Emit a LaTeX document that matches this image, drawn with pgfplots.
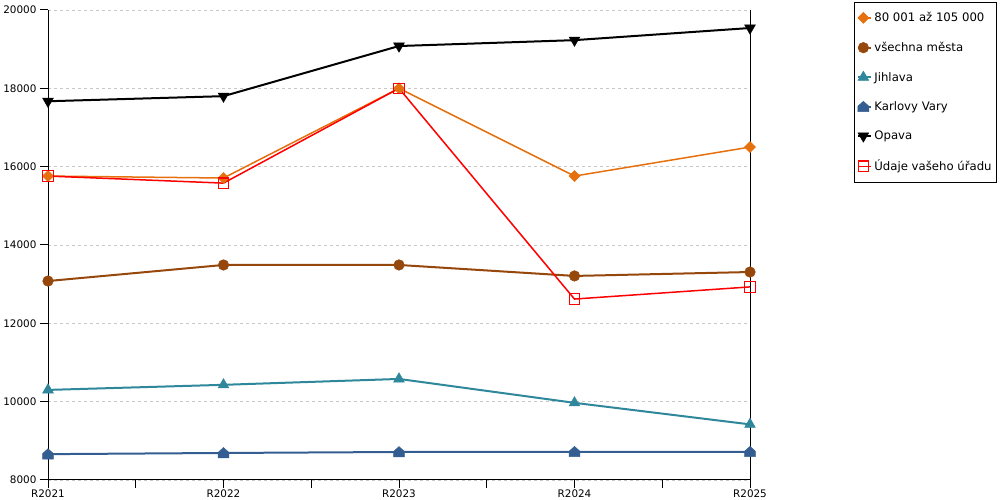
\documentclass[border=0pt]{standalone}
\usepackage{fontspec}
\setmainfont{DejaVu Sans}
\usepackage{pgfplots}
\pgfplotsset{compat=1.18}
\definecolor{corange}{RGB}{230,112,14}
\definecolor{cbrown}{RGB}{150,72,12}
\definecolor{cteal}{RGB}{46,135,155}
\definecolor{cblue}{RGB}{52,94,145}
\definecolor{cgrid}{RGB}{200,200,200}
\makeatletter
\pgfdeclareplotmark{house*}{%
  \pgfpathmoveto{\pgfqpoint{-\pgfplotmarksize}{-0.9\pgfplotmarksize}}%
  \pgfpathlineto{\pgfqpoint{\pgfplotmarksize}{-0.9\pgfplotmarksize}}%
  \pgfpathlineto{\pgfqpoint{\pgfplotmarksize}{0.1\pgfplotmarksize}}%
  \pgfpathlineto{\pgfqpoint{0pt}{\pgfplotmarksize}}%
  \pgfpathlineto{\pgfqpoint{-\pgfplotmarksize}{0.1\pgfplotmarksize}}%
  \pgfpathclose
  \pgfusepathqfillstroke}
\makeatother
\begin{document}
\begin{tikzpicture}
\path[use as bounding box] (0,0) rectangle (1000pt,500pt);
\begin{axis}[
  at={(48pt,20pt)}, anchor=south west,
  scale only axis, width=702pt, height=470pt,
  xmin=0, xmax=4, ymin=8000, ymax=20000,
  xtick={0,1,2,3,4},
  xticklabels={R2021,R2022,R2023,R2024,R2025},
  minor x tick num=1,
  ytick={8000,10000,...,20000},
  scaled y ticks=false,
  axis x line*=bottom, axis y line*=left,
  axis line style={black, line width=1pt, -},
  tick style={black, line width=1pt},
  tick align=outside,
  major tick length=8pt, minor tick length=8pt,
  ymajorgrids,
  grid style={cgrid, dash pattern=on 3pt off 3pt, line width=0.6pt},
  /pgf/number format/assume math mode=true,
  /pgf/number format/1000 sep={},
  ticklabel style={font=\fontsize{10.4}{12}\selectfont},
  xticklabel style={yshift=1.5pt},
  yticklabel style={xshift=0pt},
  clip=false,
  legend style={at={(1.1481,1.017)}, anchor=north west,
    draw=black, line width=0.8pt,
    font=\fontsize{11.7}{13}\selectfont,
    row sep=15pt, inner xsep=3pt, inner ysep=8pt},
  legend cell align=left,
  legend image code/.code={\path (-1pt,0pt) -- (12pt,0pt);\draw[#1] plot[only marks] coordinates {(4pt,0pt)};},
]
\addplot[color=corange, line width=1.5pt, mark=square*, mark size=3.9pt,
  mark options={rotate=45, fill=corange, draw=corange, line width=0.5pt}]
  coordinates {(0,15760) (1,15710) (2,18000) (3,15760) (4,16500)};
\addlegendentry{80 001 až 105 000}
\addplot[color=cbrown, line width=2pt, mark=*, mark size=5.3pt,
  mark options={fill=cbrown, draw=cbrown, line width=0.5pt}]
  coordinates {(0,13080) (1,13490) (2,13490) (3,13210) (4,13310)};
\addlegendentry{všechna města}
\addplot[color=cteal, line width=2pt, mark=triangle*, mark size=6.2pt,
  mark options={fill=cteal, draw=cteal, line width=0.5pt}]
  coordinates {(0,10300) (1,10430) (2,10580) (3,9970) (4,9420)};
\addlegendentry{Jihlava}
\addplot[color=cblue, line width=2pt, mark=house*, mark size=5.4pt,
  mark options={fill=cblue, draw=cblue, line width=0.5pt}]
  coordinates {(0,8660) (1,8690) (2,8715) (3,8720) (4,8720)};
\addlegendentry{Karlovy Vary}
\addplot[color=black, line width=2pt, mark=triangle*, mark size=6.2pt,
  mark options={rotate=180, fill=black, draw=black, line width=0.5pt}]
  coordinates {(0,17670) (1,17800) (2,19080) (3,19230) (4,19540)};
\addlegendentry{Opava}
\addplot[color=red, line width=1.5pt, mark=square, mark size=5.2pt,
  mark options={draw=red, fill=none, line width=1.2pt}]
  coordinates {(0,15760) (1,15580) (2,18000) (3,12620) (4,12930)};
\addlegendentry{Údaje vašeho úřadu}
\draw[black, line width=1pt] (rel axis cs:1,0) -- (rel axis cs:1,1);
\end{axis}
\end{tikzpicture}
\end{document}
